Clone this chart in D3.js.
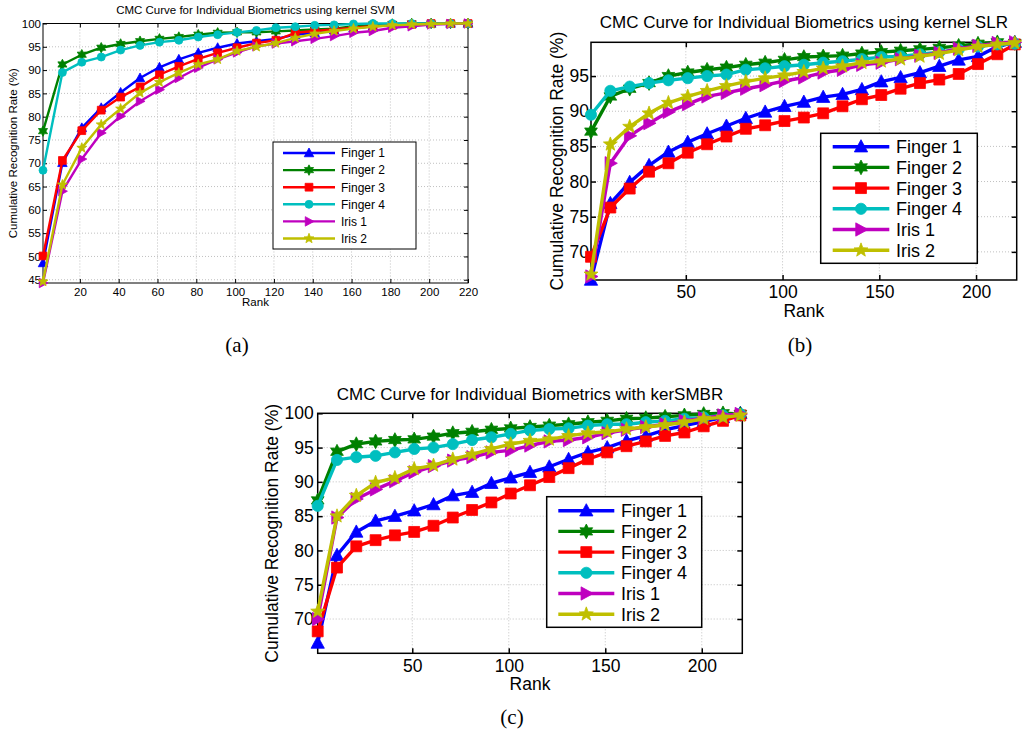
<!DOCTYPE html>
<html><head><meta charset="utf-8">
<script src="https://cdn.jsdelivr.net/npm/d3@7"></script>
<style>body{margin:0;background:#fff} svg{display:block}</style>
</head><body>
<svg id="chart" width="1026" height="735"></svg>
<script>
// ---------- DATA ----------
const ranks = [1,11,21,31,41,51,61,71,81,91,101,111,121,131,141,151,161,171,181,191,201,211,220];
const seriesNames   = ["Finger 1","Finger 2","Finger 3","Finger 4","Iris 1","Iris 2"];
const seriesColors  = ["#0000ff","#008000","#ff0000","#00bfbf","#bf00bf","#bfbf00"];
const seriesMarkers = ["triangleUp","hexagram","square","circle","triangleRight","pentagram"];

// (a) kernel SVM
const svmFinger1 = [48.6,70.1,77.6,81.9,85.2,88.3,90.6,92.3,93.7,94.8,95.7,96.2,96.7,97.6,98.0,98.6,99.0,99.4,99.7,99.9,100,100,100];
const svmFinger2 = [76.9,91.2,93.3,94.8,95.6,96.2,96.7,97.1,97.6,98.0,98.1,98.1,98.3,98.5,98.7,98.9,99.4,99.8,99.9,100,100,100,100];
const svmFinger3 = [50.1,70.6,77.0,81.4,84.2,86.4,89.0,90.8,92.4,93.7,94.8,95.8,96.4,98.0,98.4,98.7,99.1,99.4,99.6,99.8,100,100,100];
const svmFinger4 = [68.5,89.5,91.7,92.8,94.3,95.3,96.0,96.4,97.1,97.6,98.1,98.5,99.1,99.3,99.6,99.7,99.9,100,100,100,100,100,100];
const svmIris1   = [44.3,64.0,70.9,76.5,80.1,83.3,85.8,88.3,90.5,92.3,93.8,95.1,95.7,96.2,96.7,97.3,98.0,98.4,99.1,99.4,99.8,99.9,100];
const svmIris2   = [44.6,65.4,73.3,78.3,81.7,85.1,87.4,89.4,91.2,92.3,94.1,95.0,95.8,96.9,97.8,98.4,98.9,99.3,99.6,99.8,99.9,100,100];

// (b) kernel SLR
const slrFinger1 = [66.0,76.9,79.9,82.3,84.2,85.6,86.8,87.9,89.0,89.9,90.7,91.3,92.0,92.4,93.1,94.2,94.8,95.5,96.4,97.3,97.8,99.2,99.8];
const slrFinger2 = [87.1,92.1,93.2,94.0,95.0,95.5,95.9,96.2,96.6,96.9,97.3,97.7,97.8,97.9,98.2,98.4,98.6,98.8,99.0,99.3,99.6,99.8,99.7];
const slrFinger3 = [69.3,76.3,79.0,81.4,82.6,84.1,85.3,86.4,87.5,88.0,88.6,89.1,89.7,90.7,91.7,92.3,93.2,94.0,94.5,95.3,96.7,98.1,99.5];
const slrFinger4 = [89.5,92.9,93.5,94.0,94.4,94.7,95.0,95.2,95.9,96.1,96.4,96.6,96.9,97.1,97.4,97.7,97.8,98.1,98.4,98.8,99.2,99.5,99.6];
const slrIris1   = [66.5,82.6,86.5,88.3,89.9,91.0,92.1,92.6,93.2,93.7,94.3,94.8,95.5,95.9,96.6,96.9,97.4,97.9,98.3,98.9,99.3,99.7,99.8];
const slrIris2   = [66.8,85.3,87.8,89.7,91.2,92.1,92.9,93.6,94.2,94.7,95.1,95.6,96.1,96.4,96.9,97.1,97.4,97.8,98.2,98.7,99.2,99.5,99.7];

// (c) kerSMBR
const smbrFinger1 = [66.5,79.3,82.7,84.3,85.0,85.8,86.7,88.0,88.5,89.8,90.6,91.4,92.2,93.3,94.3,95.0,96.0,96.7,97.6,98.2,98.8,99.4,100];
const smbrFinger2 = [87.3,94.4,95.5,95.9,96.1,96.2,96.6,97.1,97.3,97.6,97.8,98.0,98.2,98.4,98.7,98.9,99.2,99.3,99.5,99.7,99.9,100,99.9];
const smbrFinger3 = [68.2,77.5,80.6,81.5,82.2,82.7,83.6,84.8,85.9,87.0,88.3,89.5,90.7,92.0,93.3,94.3,95.2,95.9,96.7,97.2,98.1,98.9,99.7];
const smbrFinger4 = [86.5,93.2,93.6,93.8,94.3,94.8,95.0,95.5,96.1,96.5,97.0,97.5,97.7,97.8,98.2,98.4,98.4,98.7,98.9,99.2,99.4,99.7,99.9];
const smbrIris1   = [70.0,84.8,87.5,88.9,90.1,91.4,92.3,93.1,93.6,94.3,94.6,95.3,95.9,96.1,96.5,97.1,97.6,98.0,98.4,98.9,99.3,99.7,99.9];
const smbrIris2   = [71.1,85.0,88.0,89.9,90.6,91.9,92.4,93.3,94.0,94.8,95.5,96.0,96.2,96.7,97.1,97.3,97.7,98.0,98.3,98.7,99.2,99.4,99.7];

const svmXTicks = [20,40,60,80,100,120,140,160,180,200,220];
const svmYTicks = [45,50,55,60,65,70,75,80,85,90,95,100];
const slrXTicks = [50,100,150,200];
const slrYTicks = [70,75,80,85,90,95];
const smbrXTicks = [50,100,150,200];
const smbrYTicks = [70,75,80,85,90,95,100];

const titles = [
  "CMC Curve for Individual Biometrics using kernel SVM",
  "CMC Curve for Individual Biometrics using kernel SLR",
  "CMC Curve for Individual Biometrics with kerSMBR"
];
const xLabel = "Rank";
const yLabel = "Cumulative Recognition Rate (%)";
const captions = ["(a)","(b)","(c)"];

// ---------- DRAWING ----------
const svg = d3.select("#chart");
const SANS = "'Liberation Sans', Arial, Helvetica, sans-serif";
const SERIF = "'Liberation Serif', 'Times New Roman', serif";

function markerPath(type, s) {
  const p = d3.path();
  if (type === "triangleUp") {
    p.moveTo(0,-s); p.lineTo(s*0.95, s*0.75); p.lineTo(-s*0.95, s*0.75); p.closePath();
  } else if (type === "triangleRight") {
    p.moveTo(s,0); p.lineTo(-s*0.75,-s*0.95); p.lineTo(-s*0.75, s*0.95); p.closePath();
  } else if (type === "square") {
    const h = s*0.78; p.rect(-h,-h,2*h,2*h);
  } else if (type === "circle") {
    p.arc(0,0,s*0.8,0,2*Math.PI); p.closePath();
  } else {
    const n = type === "hexagram" ? 6 : 5;
    const inner = type === "hexagram" ? 0.55 : 0.42;
    for (let i=0;i<2*n;i++){
      const r = i%2===0 ? s*1.05 : s*1.05*inner;
      const a = -Math.PI/2 + i*Math.PI/n;
      if (i===0) p.moveTo(r*Math.cos(a), r*Math.sin(a)); else p.lineTo(r*Math.cos(a), r*Math.sin(a));
    }
    p.closePath();
  }
  return p.toString();
}

function drawPanel(cfg) {
  const g = svg.append("g");
  const x = d3.scaleLinear().domain(cfg.xDomain).range([cfg.left, cfg.right]);
  const y = d3.scaleLinear().domain(cfg.yDomain).range([cfg.bottom, cfg.top]);

  // grid
  g.append("g").selectAll("line").data(cfg.xTicks.filter(t => x(t) < cfg.right - 1)).join("line")
    .attr("x1", d=>x(d)).attr("x2", d=>x(d)).attr("y1", cfg.top).attr("y2", cfg.bottom)
    .attr("stroke","#c0c0c0").attr("stroke-width",1).attr("stroke-dasharray","1,2");
  g.append("g").selectAll("line").data(cfg.yTicks.filter(t => y(t) > cfg.top + 1)).join("line")
    .attr("x1", cfg.left).attr("x2", cfg.right).attr("y1", d=>y(d)).attr("y2", d=>y(d))
    .attr("stroke","#c0c0c0").attr("stroke-width",1).attr("stroke-dasharray","1,2");

  // axes via d3 axis (ticks inward)
  const axB = d3.axisBottom(x).tickValues(cfg.xTicks).tickSize(-cfg.tick).tickPadding(cfg.tick + cfg.xPad).tickFormat(d3.format("d"));
  const axL = d3.axisLeft(y).tickValues(cfg.yTicks).tickSize(-cfg.tick).tickPadding(cfg.tick + cfg.yPad).tickFormat(d3.format("d"));
  const axT = d3.axisTop(x).tickValues(cfg.xTicks).tickSize(-cfg.tick).tickFormat("");
  const axR = d3.axisRight(y).tickValues(cfg.yTicks).tickSize(-cfg.tick).tickFormat("");
  const style = sel => {
    sel.select(".domain").remove();
    sel.selectAll("line").attr("stroke","#000").attr("stroke-width",cfg.boxW);
    sel.selectAll("text").attr("fill","#000").attr("font-family",SANS).attr("font-size",cfg.tickFont);
  };
  g.append("g").attr("transform",`translate(0,${cfg.bottom})`).call(axB).call(style);
  g.append("g").attr("transform",`translate(${cfg.left},0)`).call(axL).call(style);
  g.append("g").attr("transform",`translate(0,${cfg.top})`).call(axT).call(style);
  g.append("g").attr("transform",`translate(${cfg.right},0)`).call(axR).call(style);

  // box
  g.append("rect").attr("x",cfg.left).attr("y",cfg.top).attr("width",cfg.right-cfg.left).attr("height",cfg.bottom-cfg.top)
    .attr("fill","none").attr("stroke","#000").attr("stroke-width",cfg.boxW);

  // series
  const line = d3.line().x((d,i)=>x(ranks[i])).y(d=>y(d));
  cfg.series.forEach((vals, si) => {
    g.append("path").datum(vals).attr("d", line).attr("fill","none")
      .attr("stroke", seriesColors[si]).attr("stroke-width", cfg.lineW).attr("stroke-linejoin","round");
    g.append("g").selectAll("path").data(vals).join("path")
      .attr("transform",(d,i)=>`translate(${x(ranks[i])},${y(d)})`)
      .attr("d", markerPath(seriesMarkers[si], cfg.markerS))
      .attr("fill", seriesColors[si]).attr("stroke", seriesColors[si]).attr("stroke-width",0.8);
  });

  // title & labels
  g.append("text").attr("x",(cfg.left+cfg.right)/2).attr("y",cfg.titleY).attr("text-anchor","middle")
    .attr("font-family",SANS).attr("font-size",cfg.titleFont).attr("fill","#000").text(cfg.title);
  g.append("text").attr("x",(cfg.left+cfg.right)/2).attr("y",cfg.xLabelY).attr("text-anchor","middle")
    .attr("font-family",SANS).attr("font-size",cfg.labelFont).attr("fill","#000").text(xLabel);
  g.append("text").attr("transform",`translate(${cfg.yLabelX},${(cfg.top+cfg.bottom)/2}) rotate(-90)`).attr("text-anchor","middle")
    .attr("font-family",SANS).attr("font-size",cfg.labelFont).attr("fill","#000").text(yLabel);

  // legend
  const L = cfg.legend;
  g.append("rect").attr("x",L.x0).attr("y",L.y0).attr("width",L.x1-L.x0).attr("height",L.y1-L.y0)
    .attr("fill","#fff").attr("stroke","#000").attr("stroke-width",cfg.boxW);
  seriesNames.forEach((name, si) => {
    const ry = L.row0 + si*L.step;
    g.append("line").attr("x1",L.lx0).attr("x2",L.lx1).attr("y1",ry).attr("y2",ry)
      .attr("stroke",seriesColors[si]).attr("stroke-width",cfg.lineW);
    g.append("path").attr("transform",`translate(${(L.lx0+L.lx1)/2},${ry})`)
      .attr("d", markerPath(seriesMarkers[si], cfg.markerS))
      .attr("fill", seriesColors[si]).attr("stroke", seriesColors[si]).attr("stroke-width",0.8);
    g.append("text").attr("x",L.tx).attr("y",ry).attr("dy","0.36em")
      .attr("font-family",SANS).attr("font-size",L.font).attr("fill","#000").text(name);
  });
}

drawPanel({
  left:43, right:468, top:23.5, bottom:283, xDomain:[1,220], yDomain:[44.3,100],
  xTicks:svmXTicks, yTicks:svmYTicks, tick:4, xPad:1, yPad:-2, tickFont:11.5,
  title:titles[0], titleY:14, titleFont:11.5, labelFont:11.5, xLabelY:306, yLabelX:17,
  lineW:2.4, markerS:5, boxW:1,
  series:[svmFinger1,svmFinger2,svmFinger3,svmFinger4,svmIris1,svmIris2],
  legend:{x0:273,y0:142,x1:416,y1:249,lx0:283,lx1:335,tx:341,row0:153,step:17.1,font:12}
});

drawPanel({
  left:591, right:1016.7, top:42.3, bottom:280, xDomain:[1,221], yDomain:[66,99.8],
  xTicks:slrXTicks, yTicks:slrYTicks, tick:5, xPad:1, yPad:-3, tickFont:17.5,
  title:titles[1], titleY:28, titleFont:17, labelFont:17.5, xLabelY:317, yLabelX:563,
  lineW:3.4, markerS:7, boxW:1.5,
  series:[slrFinger1,slrFinger2,slrFinger3,slrFinger4,slrIris1,slrIris2],
  legend:{x0:820.7,y0:133.3,x1:977.3,y1:263.3,lx0:832.7,lx1:889.3,tx:896,row0:146.7,step:20.7,font:18}
});

drawPanel({
  left:317.7, right:742.3, top:413.3, bottom:653.3, xDomain:[1,221], yDomain:[65,100],
  xTicks:smbrXTicks, yTicks:smbrYTicks, tick:5, xPad:1, yPad:-1, tickFont:17.5,
  title:titles[2], titleY:400, titleFont:17, labelFont:17.5, xLabelY:690, yLabelX:278,
  lineW:3.4, markerS:7, boxW:1.5,
  series:[smbrFinger1,smbrFinger2,smbrFinger3,smbrFinger4,smbrIris1,smbrIris2],
  legend:{x0:546.7,y0:496.7,x1:701.7,y1:627.3,lx0:558.3,lx1:614.3,tx:621,row0:510.7,step:20.7,font:18}
});

// captions
const capPos = [[237,352],[800,352],[512,724]];
captions.forEach((c,i) => {
  svg.append("text").attr("x",capPos[i][0]).attr("y",capPos[i][1]).attr("text-anchor","middle")
    .attr("font-family",SERIF).attr("font-size",21).attr("fill","#000").text(c);
});
</script>
</body></html>
